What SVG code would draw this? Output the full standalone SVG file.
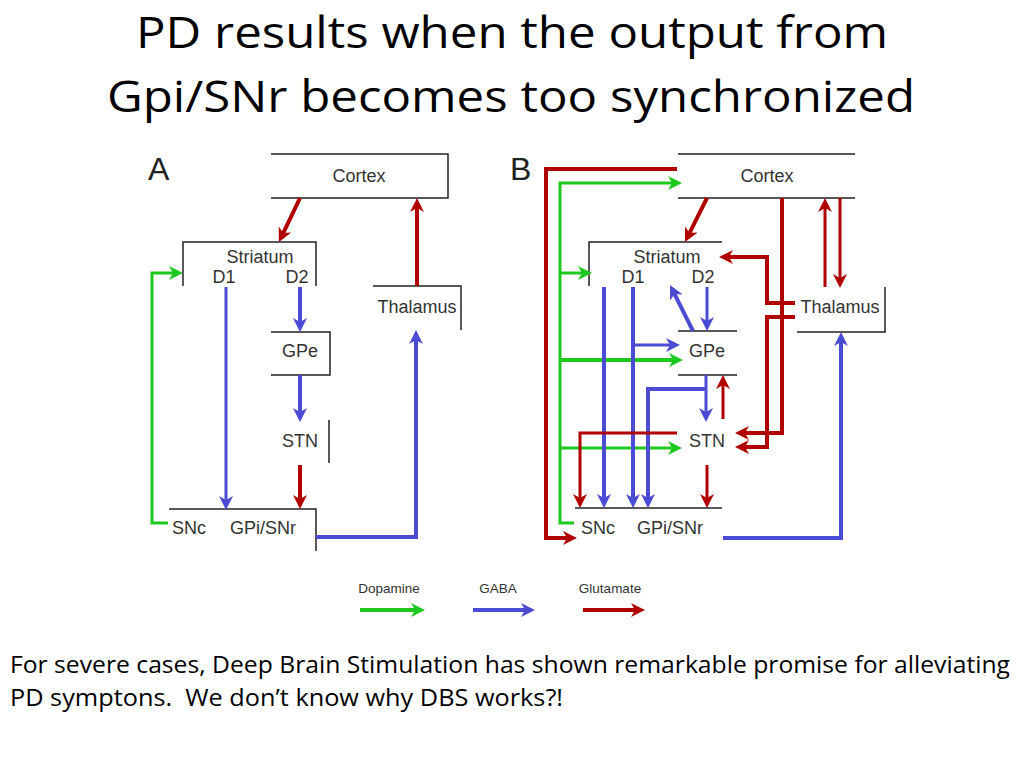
<svg xmlns="http://www.w3.org/2000/svg" width="1024" height="768" viewBox="0 0 1024 768">
<defs>
<style>
.t{font-family:"Liberation Sans",Arial,sans-serif;font-size:18px;fill:#333}
.lg{font-family:"Liberation Sans",Arial,sans-serif;font-size:13.5px;fill:#333;text-anchor:middle}
.big{font-family:"Liberation Sans",Arial,sans-serif;font-size:32px;fill:#222}
.m{text-anchor:middle}
.box{fill:none;stroke:#222;stroke-width:1.5}
.g{fill:none;stroke:#1ec81e;stroke-width:3}
.b{fill:none;stroke:#4b4bd4;stroke-width:4}
.r{fill:none;stroke:#b00000;stroke-width:4}
.ga{marker-end:url(#mg)}
.ba{marker-end:url(#mb)}
.ra{marker-end:url(#mr)}
.title{font-family:"Open Sans","Liberation Sans",sans-serif;font-size:44px;fill:#000;text-anchor:middle}
.body{font-family:"Open Sans","Liberation Sans",sans-serif;font-size:23px;fill:#000;white-space:pre}
</style>
<marker id="mg" viewBox="0 0 14 14" refX="6" refY="7" markerWidth="14" markerHeight="14" markerUnits="userSpaceOnUse" orient="auto"><path d="M0,0 L14,7 L0,14 L4,7 z" fill="#1ec81e"/></marker>
<marker id="mb" viewBox="0 0 14 14" refX="6" refY="7" markerWidth="14" markerHeight="14" markerUnits="userSpaceOnUse" orient="auto"><path d="M0,0 L14,7 L0,14 L4,7 z" fill="#4b4bd4"/></marker>
<marker id="mr" viewBox="0 0 14 14" refX="6" refY="7" markerWidth="14" markerHeight="14" markerUnits="userSpaceOnUse" orient="auto"><path d="M0,0 L14,7 L0,14 L4,7 z" fill="#b00000"/></marker>
</defs>
<rect width="1024" height="768" fill="#fff"/>

<g id="title">
<text class="title" x="512" y="48" textLength="752" lengthAdjust="spacingAndGlyphs">PD results when the output from</text>
<text class="title" x="511" y="112" textLength="808" lengthAdjust="spacingAndGlyphs">Gpi/SNr becomes too synchronized</text>
</g>

<!-- Panel A nodes -->
<g id="A-label"><text class="big" x="148" y="180">A</text></g>
<g id="A-cortex"><path class="box" d="M271,154 H448 V198 H271"/><text class="t m" x="359" y="182">Cortex</text></g>
<g id="A-striatum"><path class="box" d="M183,286 V242 H316 V286"/><text class="t m" x="260" y="263">Striatum</text><text class="t m" x="224" y="283">D1</text><text class="t m" x="297" y="283">D2</text></g>
<g id="A-gpe"><path class="box" d="M271,332 H330 V375 H271"/><text class="t m" x="300" y="357">GPe</text></g>
<g id="A-stn"><path class="box" d="M329,420 V463"/><text class="t m" x="300" y="447">STN</text></g>
<g id="A-gpi"><path class="box" d="M169,509 H316 V551"/><text class="t" x="172" y="534">SNc</text><text class="t" x="230" y="534">GPi/SNr</text></g>
<g id="A-thalamus"><path class="box" d="M373,286 H461 V330"/><text class="t m" x="417" y="313">Thalamus</text></g>

<!-- Panel B nodes -->
<g id="B-label"><text class="big" x="510" y="180">B</text></g>
<g id="B-cortex"><path class="box" d="M678,154 H855 M678,198 H855"/><text class="t m" x="767" y="182">Cortex</text></g>
<g id="B-striatum"><path class="box" d="M589,286 V242 H722"/><text class="t m" x="667" y="263">Striatum</text><text class="t m" x="633" y="283">D1</text><text class="t m" x="703" y="283">D2</text></g>
<g id="B-gpe"><path class="box" d="M678,331 H737 M678,375 H737"/><text class="t m" x="707" y="357">GPe</text></g>
<g id="B-stn"><text class="t m" x="707" y="447">STN</text></g>
<g id="B-gpi"><path class="box" d="M575,508 H722"/><text class="t" x="581" y="534">SNc</text><text class="t" x="637" y="534">GPi/SNr</text></g>
<g id="B-thalamus"><path class="box" d="M797,332 H885 V287"/><text class="t m" x="840" y="313">Thalamus</text></g>

<g id="connectors">
<!-- A -->
<path class="r ra" d="M300,198 L282.4,234.8"/>
<path class="g ga" d="M168,523 H152 V273 H175"/>
<path class="b ba" style="stroke-width:3" d="M226,287 V502"/>
<path class="b ba" d="M300,287 V324"/>
<path class="b ba" d="M300,375 V414"/>
<path class="r ra" d="M300,465 V501"/>
<path class="b ba" d="M316,537 H416 V338"/>
<path class="r ra" d="M417,286 V206"/>
<!-- B -->
<path class="r ra" d="M677,169 H546 V538 H569"/>
<path class="g ga" d="M574,523 H560 V183 H674"/>
<path class="g ga" d="M560,273 H584"/>
<path class="g ga" style="stroke-width:4" d="M560,360 H675"/>
<path class="g ga" d="M560,448 H674"/>
<path class="r ra" d="M707,198 L688.6,234.8"/>
<path class="r ra" d="M795,303 H767 V257 H727"/>
<path class="r ra" d="M782,198 V433 H743"/>
<path class="r ra" d="M795,317 H767 V447 H743"/>
<path class="r ra" style="stroke-width:3" d="M825,287 V206"/>
<path class="r ra" style="stroke-width:3" d="M840,198 V280"/>
<path class="b ba" d="M723,538 H841 V340"/>
<path class="b ba" d="M604,287 V500"/>
<path class="b ba" d="M633,287 V500"/>
<path class="b ba" style="stroke-width:3" d="M633,345 H672"/>
<path class="b ba" style="stroke-width:3" d="M707,287 V323"/>
<path class="b ba" d="M693,331 L673.6,292.2"/>
<path class="b ba" style="stroke-width:3" d="M706,375 V414"/>
<path class="b ba" d="M706,389 H648 V500"/>
<path class="r ra" style="stroke-width:3" d="M723,419 V383"/>
<path class="r ra" style="stroke-width:3" d="M677,433 H580 V500"/>
<path class="r ra" style="stroke-width:3" d="M707,465 V500"/>
</g>

<g id="legend">
<text class="lg" x="389" y="593">Dopamine</text>
<text class="lg" x="498" y="593">GABA</text>
<text class="lg" x="610" y="593">Glutamate</text>
<path class="g ga" style="stroke-width:4" d="M360,610 H417"/>
<path class="b ba" d="M473,610 H527"/>
<path class="r ra" d="M583,610 H637"/>
</g>

<g id="caption">
<text class="body" x="10" y="673" textLength="1000" lengthAdjust="spacingAndGlyphs">For severe cases, Deep Brain Stimulation has shown remarkable promise for alleviating</text>
<text class="body" x="10" y="706" textLength="553" lengthAdjust="spacingAndGlyphs">PD symptons.  We don’t know why DBS works?!</text>
</g>
</svg>
